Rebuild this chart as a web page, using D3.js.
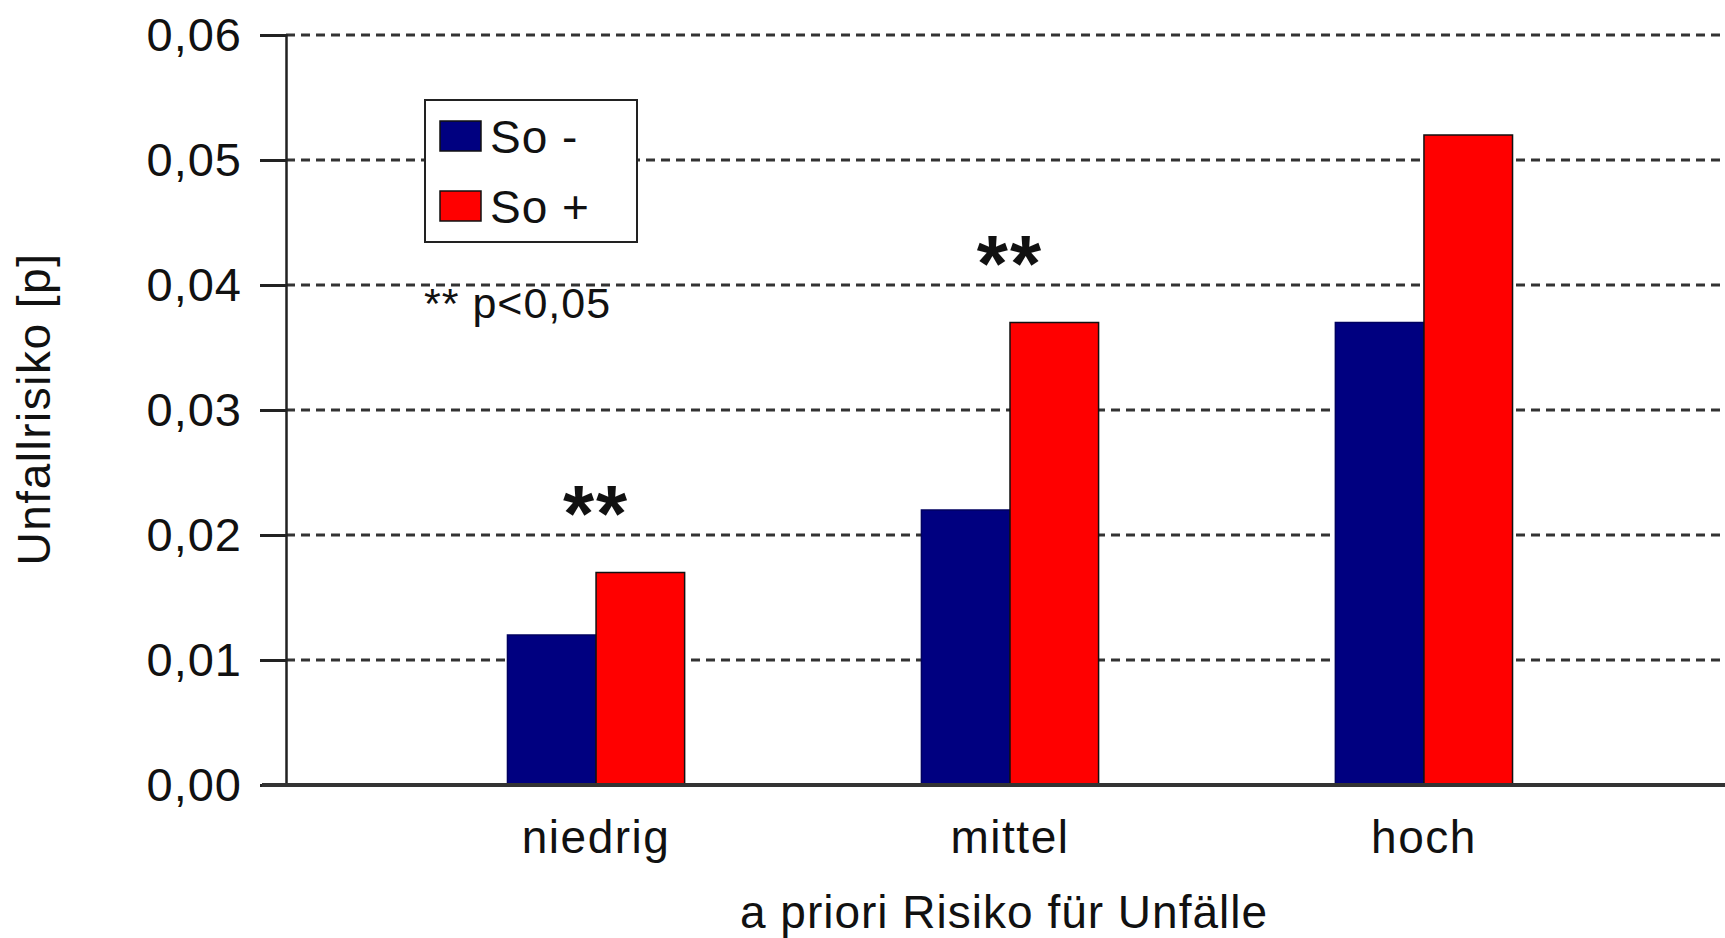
<!DOCTYPE html>
<html>
<head>
<meta charset="utf-8">
<script src="https://cdn.jsdelivr.net/npm/d3@7"></script>
<style>
  body { margin: 0; background: #fff; }
  svg { display: block; font-family: "Liberation Sans", Arial, sans-serif; }
</style>
</head>
<body>
<div id="chart-area"></div>
<script>
const categories = ["niedrig", "mittel", "hoch"];
const seriesNames = ["So -", "So +"];
const soMinus = [0.012, 0.022, 0.037];
const soPlus = [0.017, 0.037, 0.052];
const yTicks = [0, 0.01, 0.02, 0.03, 0.04, 0.05, 0.06];
const significant = [true, true, false];

const w = 1725;
const h = 938;
const colors = ["#000080", "#ff0000"];

const xScale = d3.scaleBand()
    .domain(categories)
    .range([286, 1734])
    .paddingInner(0.572)
    .paddingOuter(0.535);

const xSub = d3.scaleBand()
    .domain(seriesNames)
    .range([0, xScale.bandwidth()]);

const yScale = d3.scaleLinear()
    .domain([0, 0.06])
    .range([785, 35]);

const fmt = d => d3.format(".2f")(d).replace(".", ",");

const svg = d3.select("#chart-area")
    .append("svg")
    .attr("width", w)
    .attr("height", h);

// gridlines
svg.append("g")
    .selectAll("line")
    .data(yTicks.filter(d => d > 0))
    .enter()
    .append("line")
    .attr("x1", 286)
    .attr("x2", w)
    .attr("y1", d => yScale(d))
    .attr("y2", d => yScale(d))
    .attr("stroke", "#333")
    .attr("stroke-width", 3)
    .attr("stroke-dasharray", "9,6");

// bars
const rows = categories.map((c, i) => ({ cat: c, vals: [soMinus[i], soPlus[i]] }));

const groups = svg.append("g")
    .selectAll("g")
    .data(rows)
    .enter()
    .append("g")
    .attr("transform", d => "translate(" + xScale(d.cat) + ",0)");

groups.selectAll("rect")
    .data(d => d.vals.map((v, j) => ({ name: seriesNames[j], v: v, j: j })))
    .enter()
    .append("rect")
    .attr("x", d => xSub(d.name))
    .attr("y", d => yScale(d.v))
    .attr("width", xSub.bandwidth())
    .attr("height", d => yScale(0) - yScale(d.v))
    .attr("fill", d => colors[d.j])
    .attr("stroke", d => d.j === 1 ? "#111" : "#000060")
    .attr("stroke-width", 1.5);

// y axis
const yAxis = d3.axisLeft(yScale)
    .tickValues(yTicks)
    .tickFormat(fmt)
    .tickSize(26)
    .tickPadding(18);

const gy = svg.append("g")
    .attr("id", "y-axis")
    .attr("transform", "translate(286,0)")
    .call(yAxis);
gy.select(".domain").attr("stroke", "#222").attr("stroke-width", 2.5);
gy.selectAll(".tick line").attr("stroke", "#222").attr("stroke-width", 3);
gy.selectAll(".tick text")
    .attr("font-size", 47)
    .attr("letter-spacing", 1)
    .attr("fill", "#111")
    .attr("font-family", "Liberation Sans, Arial, sans-serif");

// x axis (baseline)
svg.append("line")
    .attr("x1", 262)
    .attr("x2", w)
    .attr("y1", yScale(0))
    .attr("y2", yScale(0))
    .attr("stroke", "#333")
    .attr("stroke-width", 4);

const xAxis = d3.axisBottom(xScale).tickSize(0).tickPadding(0);
const gx = svg.append("g")
    .attr("id", "x-axis")
    .attr("transform", "translate(0," + yScale(0) + ")")
    .call(xAxis);
gx.select(".domain").remove();
gx.selectAll(".tick text")
    .attr("dy", 0)
    .attr("y", 68)
    .attr("font-size", 46)
    .attr("letter-spacing", 1.5)
    .attr("fill", "#111")
    .attr("font-family", "Liberation Sans, Arial, sans-serif");

// significance stars
svg.append("g")
    .selectAll("text")
    .data(categories.filter((c, i) => significant[i]))
    .enter()
    .append("text")
    .attr("x", d => xScale(d) + xScale.bandwidth() / 2)
    .attr("y", d => yScale(soPlus[categories.indexOf(d)]) + 26 - 58)
    .attr("text-anchor", "middle")
    .attr("font-size", 80)
    .attr("letter-spacing", 2)
    .attr("font-weight", "bold")
    .attr("fill", "#111")
    .text("**");

// axis titles
svg.append("text")
    .attr("transform", "translate(50,409) rotate(-90)")
    .attr("text-anchor", "middle")
    .attr("font-size", 46)
    .attr("letter-spacing", 1.5)
    .attr("fill", "#111")
    .text("Unfallrisiko [p]");

svg.append("text")
    .attr("x", 1004)
    .attr("y", 928)
    .attr("text-anchor", "middle")
    .attr("font-size", 46)
    .attr("letter-spacing", 1)
    .attr("fill", "#111")
    .text("a priori Risiko für Unfälle");

// legend
const legend = svg.append("g").attr("transform", "translate(425,100)");
legend.append("rect")
    .attr("width", 212)
    .attr("height", 142)
    .attr("fill", "#fff")
    .attr("stroke", "#222")
    .attr("stroke-width", 2);
seriesNames.forEach((name, j) => {
    legend.append("rect")
        .attr("x", 15)
        .attr("y", 21 + j * 70)
        .attr("width", 41)
        .attr("height", 30)
        .attr("fill", colors[j])
        .attr("stroke", "#111")
        .attr("stroke-width", 1.5);
    legend.append("text")
        .attr("x", 65)
        .attr("y", 53 + j * 70)
        .attr("font-size", 46)
        .attr("letter-spacing", 1)
        .attr("fill", "#111")
        .text(name);
});

svg.append("text")
    .attr("x", 424)
    .attr("y", 318)
    .attr("font-size", 43)
    .attr("letter-spacing", 1)
    .attr("fill", "#111")
    .text("** p<0,05");
</script>
</body>
</html>
